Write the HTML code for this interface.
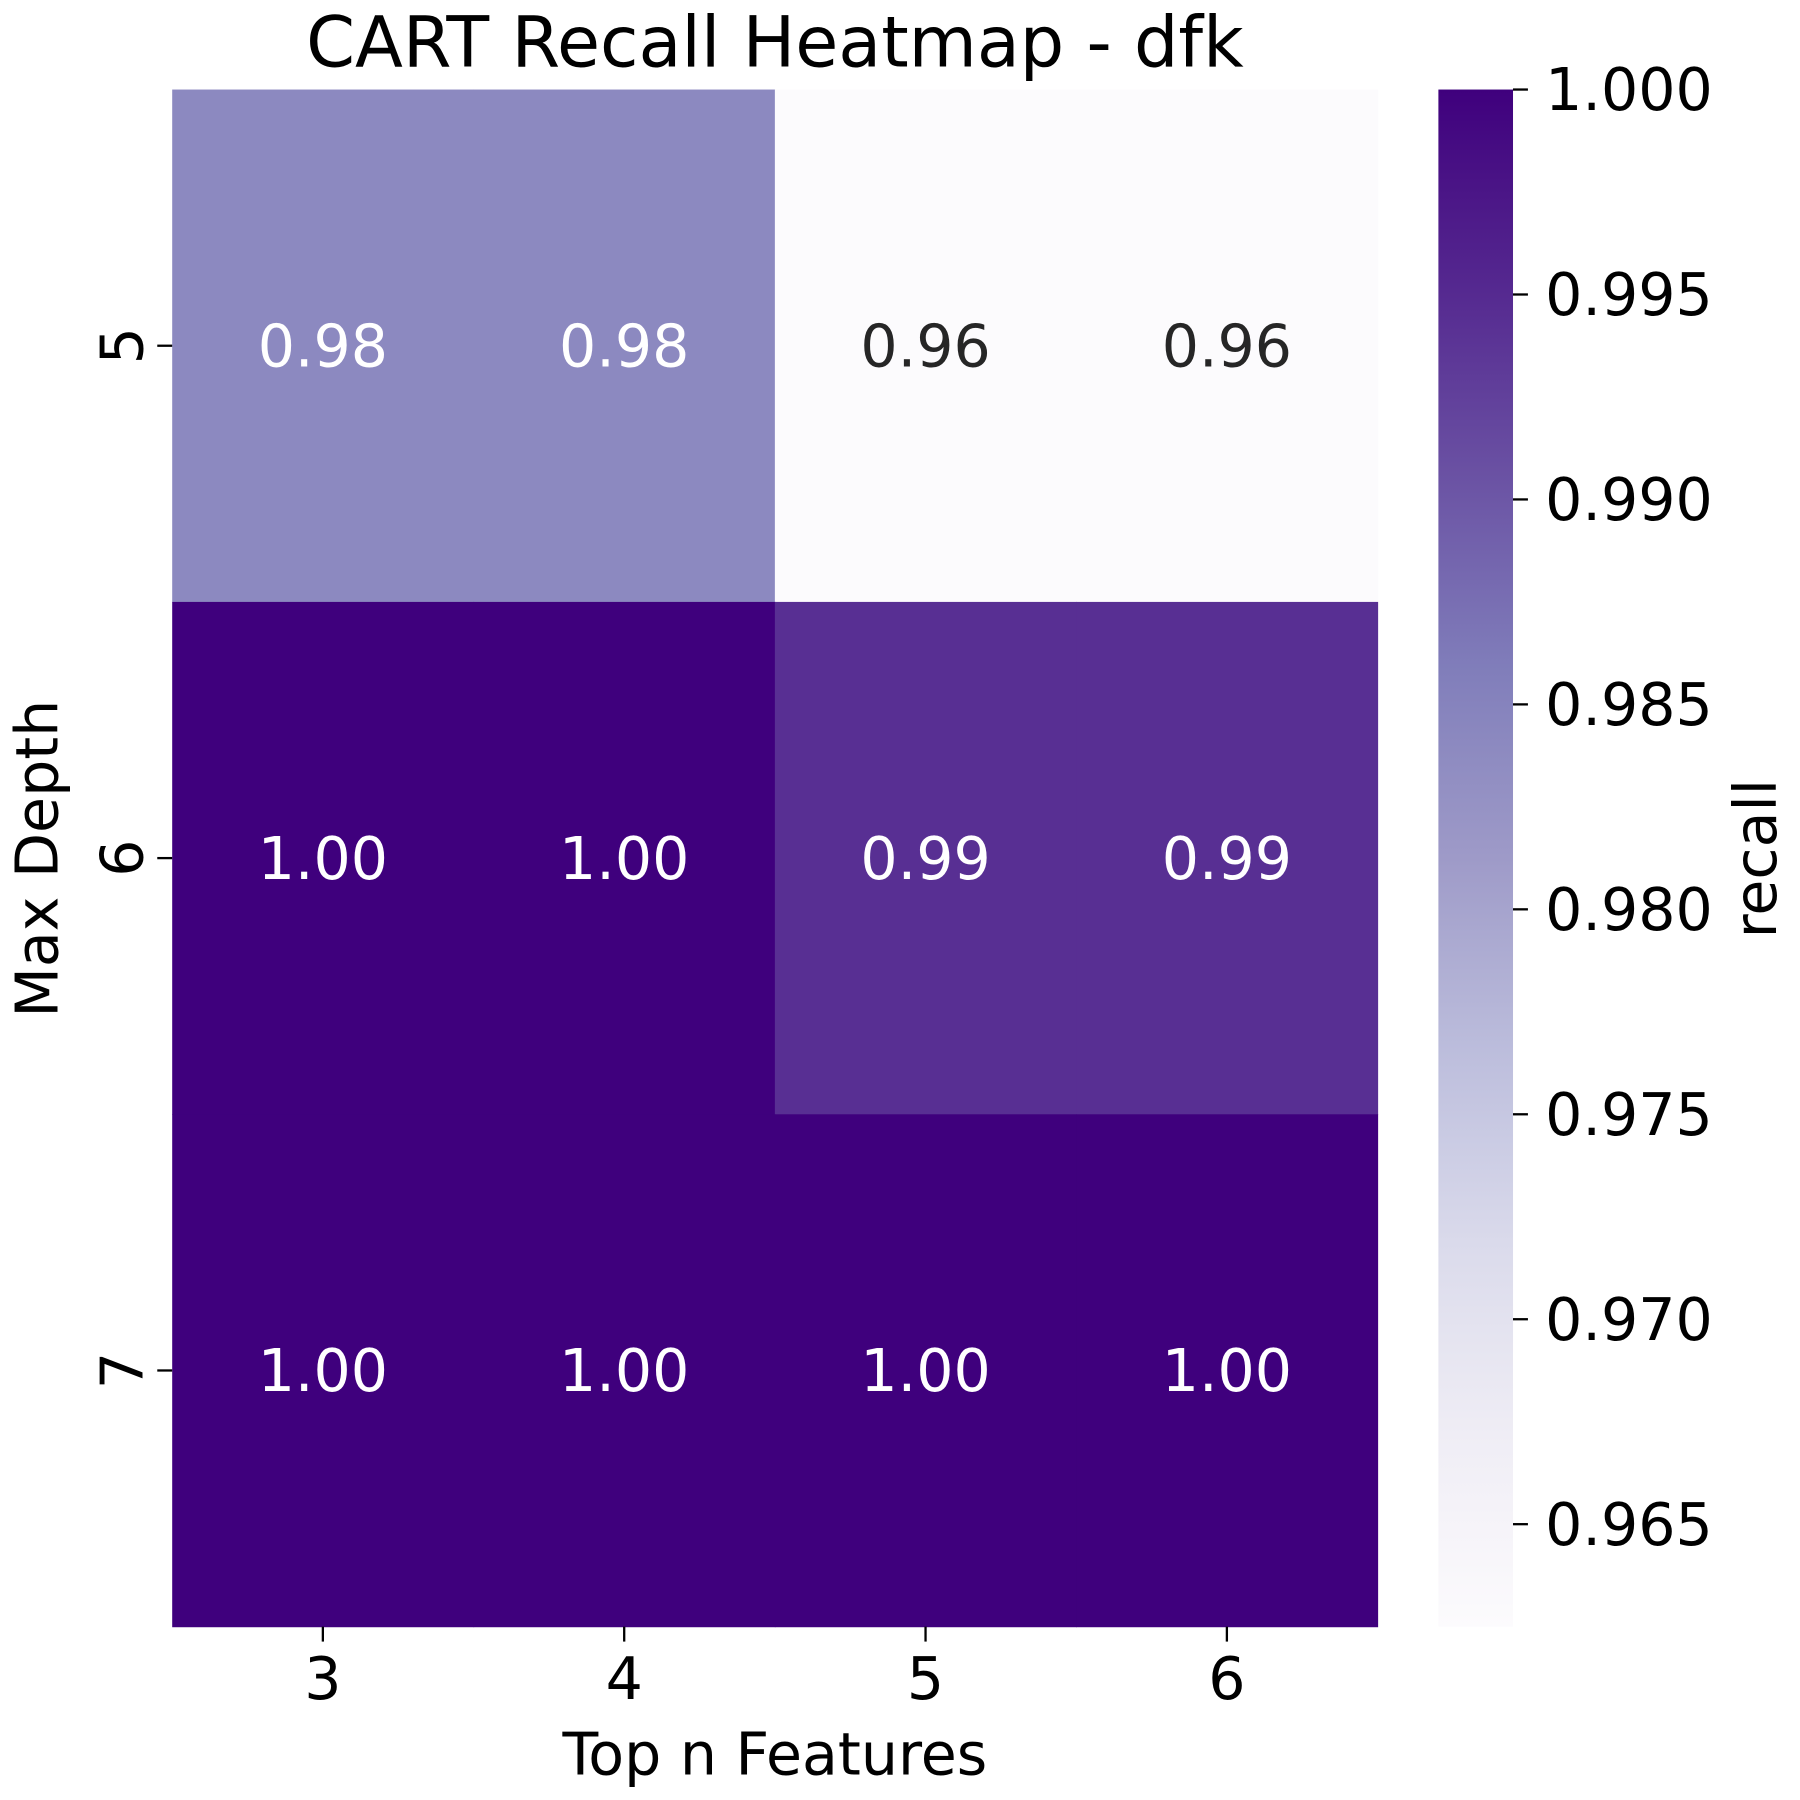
<!DOCTYPE html>
<html><head><meta charset="utf-8"><style>
html,body{margin:0;padding:0;background:#fff;}
svg{display:block;font-family:"DejaVu Sans","Liberation Sans",sans-serif;}
</style></head><body>
<svg id="chart" width="1800" height="1800" viewBox="0 0 1568 1568" xmlns="http://www.w3.org/2000/svg">
<defs><linearGradient id="cbgrad" x1="0" y1="1" x2="0" y2="0"></linearGradient></defs>
<g id="cells"></g>
<g id="annots"></g>
<g id="xaxis"></g>
<g id="yaxis"></g>
<g id="cbar"></g>
<text x="675" y="58" font-size="61" text-anchor="middle">CART Recall Heatmap - dfk</text>
<text x="675" y="1546" font-size="51" text-anchor="middle">Top n Features</text>
<text transform="translate(50,748) rotate(-90)" font-size="51" text-anchor="middle">Max Depth</text>
<text transform="translate(1547,748) rotate(-90)" font-size="51" text-anchor="middle">recall</text>
</svg>
<script>
const xCategories = ["3","4","5","6"];
const yCategories = ["5","6","7"];
const row5 = [0.9840, 0.9840, 0.9625, 0.9625];
const row6 = [1.0, 1.0, 0.9944, 0.9944];
const row7 = [1.0, 1.0, 1.0, 1.0];
const cellLabels5 = ["0.98","0.98","0.96","0.96"];
const cellLabels6 = ["1.00","1.00","0.99","0.99"];
const cellLabels7 = ["1.00","1.00","1.00","1.00"];
const cbTicks = [0.965,0.970,0.975,0.980,0.985,0.990,0.995,1.000];
const cbTickLabels = ["0.965","0.970","0.975","0.980","0.985","0.990","0.995","1.000"];
const vmin = 0.9625, vmax = 1.0;

const NS="http://www.w3.org/2000/svg";
const L=150,R=1200,T=78,B=1417;
const CBL=1253,CBR=1318;
const cw=(R-L)/xCategories.length, rh=(B-T)/yCategories.length;
const xPos=i=>L+cw*(i+0.5);
const yPos=i=>T+rh*(i+0.5);
const cbY=v=>B-(v-vmin)/(vmax-vmin)*(B-T);
const stops=["#fcfbfd","#efedf5","#dadaeb","#bcbddc","#9e9ac8","#807dba","#6a51a3","#54278f","#3f007d"];
function hex(h){return [1,3,5].map(i=>parseInt(h.substr(i,2),16));}
function cmap(t){t=Math.max(0,Math.min(1,t));const s=t*8;const i=Math.min(7,Math.floor(s));const f=s-i;
 const a=hex(stops[i]),b=hex(stops[i+1]);const c=a.map((v,k)=>Math.round(v+(b[k]-v)*f));
 return {css:`rgb(${c[0]},${c[1]},${c[2]})`,lum:(0.299*c[0]+0.587*c[1]+0.114*c[2])/255};}
function mk(tag,attrs,parent){const e=document.createElementNS(NS,tag);for(const k in attrs)e.setAttribute(k,attrs[k]);parent.appendChild(e);return e;}
const rows=[row5,row6,row7], labs=[cellLabels5,cellLabels6,cellLabels7];
const gC=document.getElementById('cells'),gA=document.getElementById('annots');
rows.forEach((row,r)=>row.forEach((v,c)=>{
 const col=cmap((v-vmin)/(vmax-vmin));
 const rect=mk('rect',{x:L+cw*c,y:T+rh*r,width:cw+0.5,height:rh+0.5,fill:col.css},gC);
 
 
 const t=mk('text',{x:xPos(c),y:yPos(r)+18,'font-size':51,'text-anchor':'middle',fill:col.lum<0.6?'#fff':'#262626'},gA);
 t.textContent=labs[r][c];
 
 
}));
const gX=document.getElementById('xaxis');
xCategories.forEach((c,i)=>{
 const ln=mk('line',{x1:xPos(i),x2:xPos(i),y1:B,y2:B+13,stroke:'#000','stroke-width':2},gX);
 
 
 const t=mk('text',{x:xPos(i),y:B+63,'font-size':51,'text-anchor':'middle'},gX);
 t.textContent=c;
 
 
});
const gY=document.getElementById('yaxis');
yCategories.forEach((c,i)=>{
 const ln=mk('line',{x1:L-13,x2:L,y1:yPos(i),y2:yPos(i),stroke:'#000','stroke-width':2},gY);
 
 
 const t=mk('text',{transform:`translate(${L-26},${yPos(i)}) rotate(-90)`,'font-size':51,'text-anchor':'middle'},gY);
 t.textContent=c;
 
 
});
const grad=document.getElementById('cbgrad');
for(let k=0;k<=16;k++){mk('stop',{offset:k/16,'stop-color':cmap(k/16).css},grad);}
const gB=document.getElementById('cbar');
const cb=mk('rect',{x:CBL,y:T,width:CBR-CBL,height:B-T,fill:'url(#cbgrad)'},gB);


cbTicks.forEach((v,i)=>{
 const ln=mk('line',{x1:CBR,x2:CBR+13,y1:cbY(v),y2:cbY(v),stroke:'#000','stroke-width':2},gB);
 
 
 const t=mk('text',{x:CBR+28,y:cbY(v)+18,'font-size':51},gB);
 t.textContent=cbTickLabels[i];
 
 
});
</script>
</body></html>
